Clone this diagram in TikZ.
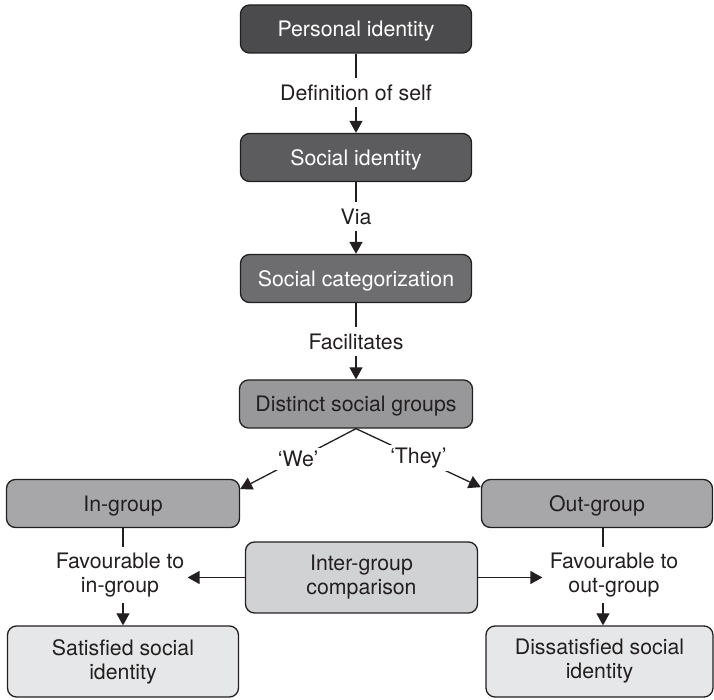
\documentclass[tikz,border=0pt]{standalone}
\usepackage{fontspec}
\setmainfont{TeX Gyre Heros}
\usetikzlibrary{arrows.meta,calc}
\definecolor{bord}{HTML}{231F20}
\definecolor{txt}{HTML}{231F20}
\definecolor{cA}{HTML}{4B4B4D}
\definecolor{cB}{HTML}{5C5C5E}
\definecolor{cC}{HTML}{6D6D6F}
\definecolor{cD}{HTML}{98989A}
\definecolor{cE}{HTML}{A7A7A9}
\definecolor{cF}{HTML}{D1D2D4}
\definecolor{cG}{HTML}{E6E7E8}
\newcommand{\fsz}{\fontsize{10.65}{12}\selectfont}
\tikzset{
  box/.style={draw=bord, line width=0.65pt, rounded corners=4.5pt,
    inner sep=0pt, align=center, font=\fsz, text=txt},
  onel/.style={text height=7.7pt, text depth=0pt, minimum height=24pt},
  twol/.style={minimum height=35.5pt},
  darkbox/.style={box, onel, text=white},
  lbl/.style={fill=white, inner xsep=0pt, inner ysep=3pt, align=center, font=\fsz, text=txt},
  lbltwo/.style={lbl, inner ysep=2.75pt},
  quo/.style={fill=white, inner sep=1.5pt, font=\fsz, text=txt},
  con/.style={draw=bord, line width=0.65pt},
  arr/.style={con, -{Triangle[length=6pt,width=6.5pt]}}
}
\begin{document}
\begin{tikzpicture}[x=0.5pt,y=-0.5pt]
\useasboundingbox (0,0) rectangle (714,700);
% boxes
\node[darkbox, fill=cA, minimum width=115.5pt] (p) at (356,29) {Personal identity};
\node[darkbox, fill=cB, minimum width=115.5pt] (s) at (356,157.5) {Social identity};
\node[darkbox, fill=cC, minimum width=115.5pt] (c) at (356,278.5) {Social categorization};
\node[box, onel, fill=cD, minimum width=116.5pt] (d) at (356,404) {Distinct social groups};
\node[box, onel, fill=cE, minimum width=116.5pt] (ing) at (123,503.5) {In-group};
\node[box, onel, fill=cE, minimum width=115.5pt] (outg) at (597,503.5) {Out-group};
\node[box, twol, fill=cF, minimum width=116pt] (ig) at (361.5,577.5) {Inter-group\\comparison};
\node[box, twol, fill=cG, minimum width=115.5pt] (sat) at (123,661.5) {Satisfied social\\identity};
\node[box, twol, fill=cG, minimum width=113.5pt] (dis) at (599.5,661.5) {Dissatisfied social\\identity};
% labels
\node[lbl] (l1) at (356,92.5) {Definition of self};
\node[lbl] (l2) at (356,216.5) {Via};
\node[lbl] (l3) at (356,341.5) {Facilitates};
\node[lbltwo] (fl) at (120,575.3) {Favourable to\\in-group};
\node[lbltwo] (fr) at (614,575.3) {Favourable to\\out-group};
\coordinate (rx) at (603,0);
% connectors
\draw[con] (p.south) -- (l1.north);
\draw[arr] (l1.south) -- (s.north);
\draw[con] (s.south) -- (l2.north);
\draw[arr] (l2.south) -- (c.north);
\draw[con] (c.south) -- (l3.north);
\draw[arr] (l3.south) -- (d.north);
\draw[arr] (d.south) -- node[quo] {‘We’} (ing.7.5);
\draw[arr] (d.south) -- node[quo] {‘They’} (outg.172.5);
\draw[con] (ing.south) -- (ing.south |- fl.north);
\draw[arr] (ing.south |- fl.south) -- (sat.north);
\draw[con] (rx |- outg.south) -- (rx |- fr.north);
\draw[arr] (rx |- fr.south) -- (rx |- dis.north);
\draw[arr, shorten >=1.5pt] (ig.west) -- (fl.east |- ig.west);
\draw[arr, shorten >=3.5pt] (ig.east) -- (fr.west |- ig.east);
\end{tikzpicture}
\end{document}
